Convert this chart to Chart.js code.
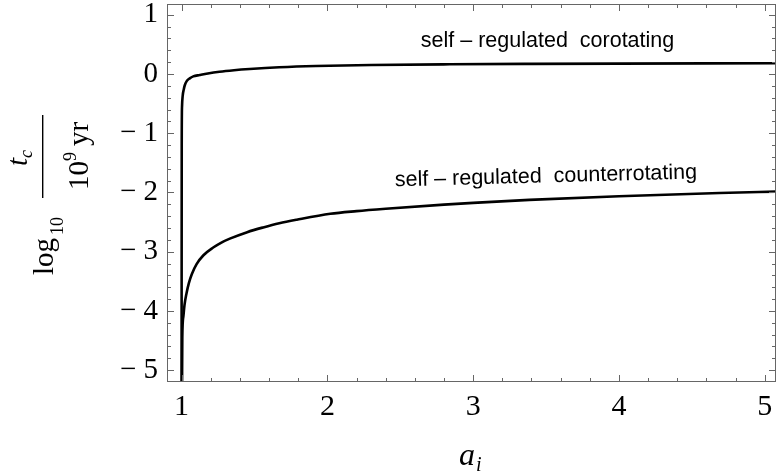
<!DOCTYPE html>
<html>
<head>
<meta charset="utf-8">
<script src="https://cdn.jsdelivr.net/npm/chart.js@4.4.1/dist/chart.umd.min.js"></script>
<style>
  html, body { margin: 0; padding: 0; background: #fff; }
</style>
</head>
<body>
<canvas id="myChart" width="776" height="473"></canvas>
<script>
// self-regulated corotating curve
var coX = [1.0, 1.001, 1.003, 1.008, 1.015, 1.022, 1.035, 1.056, 1.08, 1.124, 1.18, 1.26, 1.36, 1.467, 1.67, 1.92, 2.3, 2.84, 3.4, 4.0, 4.6, 5.1];
var coY = [-5.4, -1.2, -0.55, -0.36, -0.26, -0.19, -0.12, -0.073, -0.04, -0.017, 0.01, 0.039, 0.064, 0.084, 0.113, 0.135, 0.152, 0.164, 0.171, 0.176, 0.179, 0.181];

// self-regulated counterrotating curve
var ctrX = [1.003, 1.005, 1.012, 1.02, 1.034, 1.05, 1.07, 1.103, 1.15, 1.217, 1.27, 1.331, 1.45, 1.56, 1.67, 1.79, 2.02, 2.2, 2.4, 2.8, 3.0, 3.385, 4.0, 4.69, 5.1];
var ctrY = [-5.4, -4.44, -4.1, -3.9, -3.70, -3.53, -3.38, -3.21, -3.06, -2.93, -2.85, -2.78, -2.67, -2.59, -2.52, -2.46, -2.36, -2.315, -2.275, -2.205, -2.175, -2.125, -2.065, -2.01, -1.985];

var xTicks = [1, 2, 3, 4, 5];
var yTicks = [1, 0, -1, -2, -3, -4, -5];
var coLabel = 'self \u2013 regulated  corotating';
var ctrLabel = 'self \u2013 regulated  counterrotating';

function pts(xs, ys) {
  var out = [];
  for (var i = 0; i < xs.length; i++) out.push({x: xs[i], y: ys[i]});
  return out;
}

var frame = {
  id: 'frame',
  afterDraw: function(chart) {
    var ctx = chart.ctx, a = chart.chartArea;
    var xs = chart.scales.x, ys = chart.scales.y;
    ctx.save();
    ctx.strokeStyle = '#666';
    ctx.lineWidth = 1;
    ctx.strokeRect(a.left + 0.5, a.top + 0.5, a.right - a.left - 1, a.bottom - a.top - 1);
    ctx.beginPath();
    // x ticks, every 0.2, top and bottom
    for (var i = 5; i <= 25; i++) {
      var px = Math.round(xs.getPixelForValue(i / 5)) + 0.5;
      var len = (i % 5 == 0) ? 7 : 4;
      ctx.moveTo(px, a.bottom); ctx.lineTo(px, a.bottom - len);
      ctx.moveTo(px, a.top); ctx.lineTo(px, a.top + len);
    }
    // y ticks, left and right
    for (var j = -25; j <= 5; j++) {
      var py = Math.round(ys.getPixelForValue(j / 5)) + 0.5;
      var l2 = (j % 5 == 0) ? 7 : 4;
      ctx.moveTo(a.left, py); ctx.lineTo(a.left + l2, py);
      ctx.moveTo(a.right, py); ctx.lineTo(a.right - l2, py);
    }
    ctx.stroke();

    // curve labels
    ctx.fillStyle = '#000';
    ctx.font = '21.5px "Liberation Sans", Arial, sans-serif';
    ctx.textAlign = 'center';
    ctx.textBaseline = 'alphabetic';
    ctx.fillText(coLabel, xs.getPixelForValue(3.51), ys.getPixelForValue(0.456));
    ctx.save();
    ctx.translate(xs.getPixelForValue(3.50), ys.getPixelForValue(-1.83));
    ctx.rotate(-1.5 * Math.PI / 180);
    ctx.fillText(ctrLabel, 0, 0);
    ctx.restore();

    // x axis title: a_i
    ctx.textAlign = 'left';
    ctx.font = 'italic 32px "Liberation Serif", "Times New Roman", serif';
    ctx.fillText('a', 459, 465);
    ctx.font = 'italic 20px "Liberation Serif", "Times New Roman", serif';
    ctx.fillText('i', 476, 471);

    // y axis title: log10 (t_c / 10^9 yr), rotated
    function rot(txt, font, px, py) {
      ctx.save();
      ctx.font = font;
      ctx.translate(px, py);
      ctx.rotate(-Math.PI / 2);
      ctx.fillText(txt, 0, 0);
      ctx.restore();
    }
    var big = '29px "Liberation Serif", "Times New Roman", serif';
    var small = '18px "Liberation Serif", "Times New Roman", serif';
    rot('log', big, 53, 275);
    rot('10', small, 63, 235);
    rot('t', 'italic ' + big, 27, 166);
    rot('c', 'italic ' + small, 32, 158);
    ctx.fillRect(42, 115, 1.4, 83);
    rot('10', big, 88, 190);
    rot('9', small, 76, 161);
    rot('yr', big, 88, 146);
    ctx.restore();
  }
};

new Chart('myChart', {
  type: 'line',
  data: {
    datasets: [{
      data: pts(coX, coY),
      borderColor: '#000',
      borderWidth: 2.6,
      pointRadius: 0,
      fill: false,
      cubicInterpolationMode: 'monotone'
    }, {
      data: pts(ctrX, ctrY),
      borderColor: '#000',
      borderWidth: 2.6,
      pointRadius: 0,
      fill: false,
      cubicInterpolationMode: 'monotone'
    }]
  },
  options: {
    responsive: false,
    animation: false,
    layout: {padding: {top: 4, right: 0, left: 0, bottom: 0}},
    plugins: {legend: {display: false}, tooltip: {enabled: false}},
    scales: {
      x: {
        type: 'linear',
        min: 0.9,
        max: 5.077,
        grid: {display: false, drawTicks: false},
        border: {display: false},
        afterBuildTicks: function(s) { s.ticks = xTicks.map(function(v) { return {value: v}; }); },
        afterFit: function(s) { s.height = 91; s.paddingLeft = 0; s.paddingRight = 0; },
        ticks: {
          color: '#000',
          padding: 7,
          maxRotation: 0,
          font: {family: '"Liberation Serif", "Times New Roman", serif', size: 30}
        }
      },
      y: {
        type: 'linear',
        min: -5.2,
        max: 1.182,
        grid: {display: false, drawTicks: false},
        border: {display: false},
        afterBuildTicks: function(s) { s.ticks = yTicks.map(function(v) { return {value: v}; }); },
        afterFit: function(s) { s.width = 167; s.paddingTop = 0; s.paddingBottom = 0; },
        ticks: {
          color: '#000',
          padding: 9,
          font: {family: '"Liberation Serif", "Times New Roman", serif', size: 29},
          callback: function(v) { return v < 0 ? '\u2212 ' + Math.abs(v) : '' + v; }
        }
      }
    }
  },
  plugins: [frame]
});
</script>
</body>
</html>
